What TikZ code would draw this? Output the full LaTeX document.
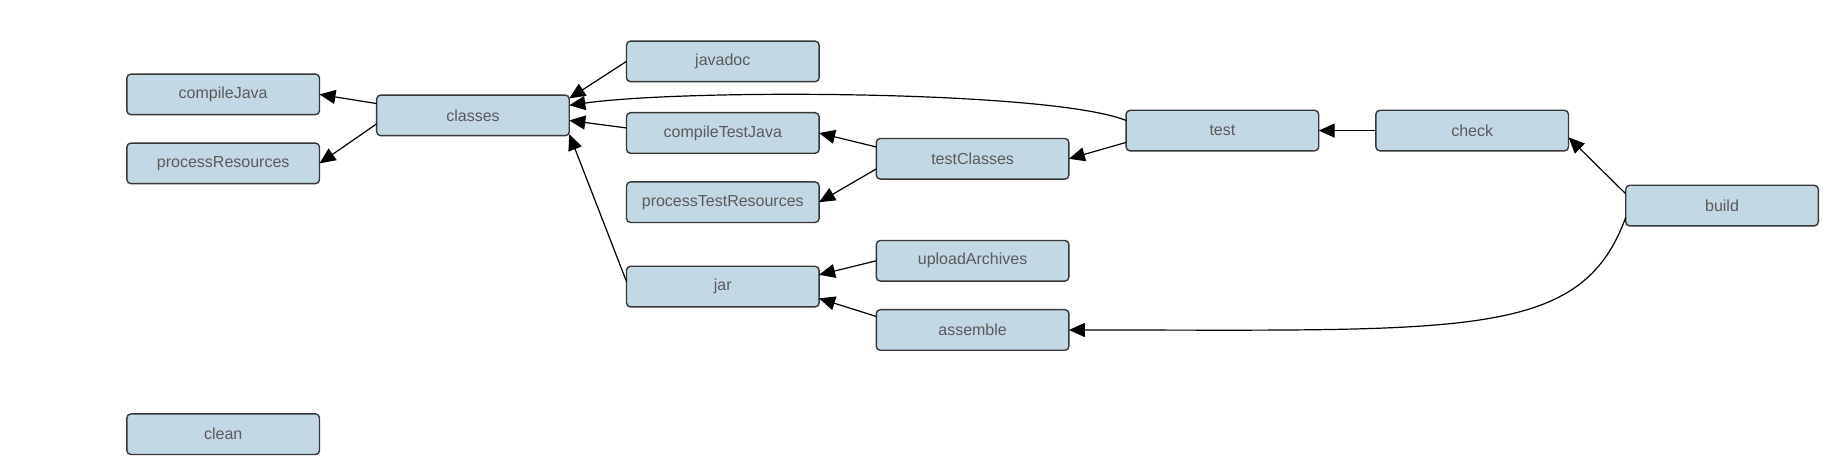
\documentclass[tikz,border=0pt]{standalone}
\usepackage{fontspec}
\setmainfont{Liberation Sans}
\usetikzlibrary{arrows.meta, positioning}
\definecolor{taskfill}{RGB}{195,216,229}
\definecolor{taskline}{RGB}{55,55,55}
\definecolor{tasktext}{RGB}{90,90,90}

\begin{document}
\begin{tikzpicture}[node distance=14.3pt and 28.6pt,
    every node/.style={font=\fontsize{8}{9.6}\selectfont},
    task/.style={rectangle, rounded corners=2pt, draw=taskline, line width=0.7pt, fill=taskfill, text=tasktext, minimum width=96.3pt, minimum height=20.3pt, inner sep=0pt, outer sep=0pt},
    dep/.style={-{Triangle[length=8pt, width=7pt]}, line width=0.6pt}]

    \useasboundingbox (-236.5pt,57.7pt) rectangle (682.5pt,-174.9pt);

    \node[task] (classes) {classes};
    \node[task, left=of classes, yshift=10.5pt] (compileJava) {compileJava};
    \node[task, left=of classes, yshift=-24pt] (processResources) {processResources};
    \node[task, below=of processResources, yshift=-100.8pt] (clean) {clean};
    \node[task, right=of classes, yshift=27pt] (javadoc) {javadoc};
    \node[task, right=of classes, yshift=-8.8pt] (compileTestJava) {compileTestJava};
    \node[task, below=of compileTestJava] (processTestResources) {processTestResources};
    \node[task, below=of processTestResources, yshift=-7.6pt] (jar) {jar};
    \node[task, right=of compileTestJava, yshift=-12.9pt] (testClasses) {testClasses};
    \node[task, right=of jar, yshift=12.9pt] (uploadArchives) {uploadArchives};
    \node[task, below=of uploadArchives] (assemble) {assemble};
    \node[task, right=of testClasses, yshift=14.1pt] (test) {test};
    \node[task, right=of test] (check) {check};
    \node[task, right=of check, yshift=-37.5pt] (build) {build};

    \draw[dep] (classes.173) -- (compileJava.east);
    \draw[dep] (classes.185) -- (processResources.east);
    \draw[dep] (javadoc.west) -- (classes.10);
    \draw[dep] (compileTestJava.177) -- (classes.357);
    \draw[dep] (jar.177) -- (classes.349);
    \draw[dep] (test.174) .. controls +(158:40pt) and +(8:60pt) .. (classes.6);
    \draw[dep] (testClasses.173) -- (compileTestJava.east);
    \draw[dep] (testClasses.186) -- (processTestResources.east);
    \draw[dep] (test.187) -- (testClasses.east);
    \draw[dep] (check.west) -- (test.east);
    \draw[dep] (build.173) -- (check.356);
    \draw[dep] (build.187) .. controls +(250:65pt) and +(0:200pt) .. (assemble.east);
    \draw[dep] (uploadArchives.west) -- (jar.7);
    \draw[dep] (assemble.172) -- (jar.353);
\end{tikzpicture}
\end{document}
